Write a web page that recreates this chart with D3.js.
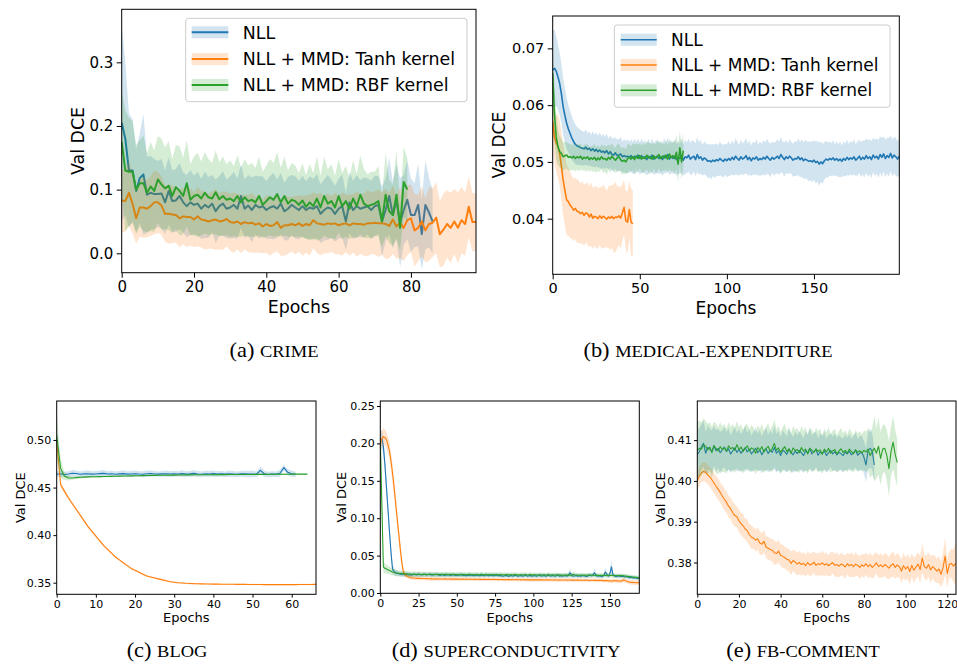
<!DOCTYPE html>
<html>
<head>
<meta charset="utf-8">
<script src="https://cdn.jsdelivr.net/npm/d3@7"></script>
<style>
  body { margin: 0; background: #fff; }
  svg { display: block; }
</style>
</head>
<body>
<div id="chart"></div>
<script>
// ---------- data ----------
const seriesNames = ["NLL", "NLL + MMD: Tanh kernel", "NLL + MMD: RBF kernel"];
const colors = ["#1f77b4", "#ff7f0e", "#2ca02c"];

// (a) crime
const aNLL = [0.205,0.180,0.130,0.130,0.098,0.118,0.124,0.092,0.095,0.093,
  0.093,0.094,0.080,0.098,0.082,0.083,0.090,0.080,0.074,0.080,
  0.076,0.078,0.070,0.076,0.072,0.078,0.066,0.074,0.078,0.070,
  0.072,0.076,0.070,0.090,0.070,0.075,0.068,0.076,0.072,0.074,
  0.068,0.072,0.074,0.070,0.078,0.066,0.070,0.076,0.072,0.068,
  0.074,0.068,0.072,0.070,0.074,0.062,0.068,0.072,0.070,0.062,
  0.070,0.074,0.050,0.080,0.068,0.074,0.070,0.072,0.074,0.068,
  0.074,0.076,0.050,0.068,0.090,0.060,0.082,0.048,0.068,0.084,
  0.060,0.060,0.076,0.030,0.076,0.064,0.050];
const aNLLsd = [0.155,0.120,0.090,0.080,0.065,0.070,0.095,0.060,0.058,0.055,
  0.052,0.054,0.050,0.053,0.048,0.050,0.052,0.047,0.049,0.051,
  0.046,0.050,0.047,0.052,0.048,0.045,0.050,0.047,0.051,0.046,
  0.049,0.052,0.047,0.050,0.046,0.048,0.051,0.046,0.049,0.047,
  0.045,0.049,0.052,0.046,0.048,0.045,0.050,0.047,0.049,0.046,
  0.048,0.045,0.049,0.047,0.050,0.046,0.048,0.051,0.046,0.044,
  0.047,0.050,0.045,0.048,0.046,0.049,0.045,0.047,0.044,0.046,
  0.048,0.045,0.055,0.050,0.060,0.052,0.058,0.070,0.055,0.062,
  0.058,0.050,0.065,0.055,0.070,0.055,0.050];
const aTanh = [0.083,0.082,0.095,0.078,0.055,0.072,0.072,0.070,0.074,0.080,
  0.080,0.075,0.062,0.062,0.061,0.060,0.055,0.058,0.057,0.057,
  0.053,0.058,0.053,0.052,0.050,0.052,0.053,0.050,0.051,0.054,
  0.049,0.048,0.050,0.046,0.049,0.047,0.048,0.045,0.047,0.042,
  0.046,0.043,0.044,0.049,0.040,0.044,0.044,0.046,0.044,0.047,
  0.043,0.046,0.044,0.052,0.047,0.046,0.045,0.047,0.046,0.047,
  0.044,0.046,0.047,0.044,0.047,0.046,0.046,0.045,0.047,0.047,
  0.048,0.047,0.047,0.046,0.043,0.053,0.042,0.048,0.040,0.052,
  0.055,0.036,0.040,0.050,0.036,0.046,0.048,0.056,0.030,0.037,
  0.046,0.040,0.050,0.040,0.052,0.046,0.073,0.049,0.049];
const aTanhSd = [0.050,0.048,0.052,0.047,0.040,0.046,0.048,0.045,0.047,0.050,
  0.048,0.046,0.044,0.047,0.045,0.043,0.046,0.044,0.047,0.045,
  0.043,0.047,0.044,0.046,0.043,0.045,0.048,0.044,0.046,0.043,
  0.045,0.047,0.044,0.046,0.043,0.045,0.047,0.044,0.046,0.042,
  0.045,0.047,0.043,0.046,0.044,0.048,0.045,0.043,0.046,0.044,
  0.047,0.045,0.048,0.044,0.046,0.049,0.045,0.047,0.044,0.048,
  0.046,0.050,0.045,0.048,0.046,0.051,0.047,0.049,0.052,0.048,
  0.050,0.053,0.049,0.055,0.051,0.054,0.050,0.056,0.052,0.055,
  0.053,0.057,0.052,0.055,0.050,0.058,0.054,0.056,0.052,0.057,
  0.053,0.055,0.051,0.056,0.052,0.050,0.048,0.046,0.045];
const aRBF = [0.175,0.130,0.128,0.128,0.100,0.110,0.110,0.095,0.105,0.098,
  0.116,0.108,0.102,0.106,0.090,0.104,0.098,0.090,0.110,0.084,
  0.090,0.092,0.086,0.095,0.088,0.086,0.096,0.085,0.090,0.084,
  0.086,0.082,0.090,0.080,0.088,0.082,0.084,0.080,0.090,0.076,
  0.082,0.088,0.084,0.093,0.080,0.090,0.078,0.084,0.082,0.076,
  0.083,0.073,0.080,0.074,0.086,0.072,0.090,0.078,0.082,0.072,
  0.090,0.074,0.082,0.070,0.086,0.074,0.092,0.078,0.074,0.076,
  0.078,0.082,0.050,0.092,0.066,0.060,0.092,0.040,0.112,0.100];
const aRBFsd = [0.080,0.095,0.085,0.080,0.070,0.068,0.075,0.062,0.070,0.064,
  0.068,0.072,0.064,0.070,0.058,0.066,0.070,0.060,0.068,0.056,
  0.062,0.066,0.058,0.064,0.060,0.056,0.066,0.058,0.062,0.056,
  0.060,0.055,0.064,0.054,0.060,0.056,0.058,0.054,0.062,0.052,
  0.056,0.060,0.058,0.066,0.054,0.062,0.052,0.058,0.056,0.050,
  0.058,0.050,0.060,0.052,0.066,0.050,0.062,0.054,0.058,0.050,
  0.058,0.052,0.056,0.048,0.060,0.050,0.062,0.054,0.050,0.052,
  0.050,0.055,0.040,0.065,0.050,0.048,0.070,0.035,0.055,0.050];

// (b) medical-expenditure
const bNLL = [0.0662,0.0665,0.0660,0.0650,0.0638,0.0620,0.0597,0.0582,0.0568,0.0558,
  0.0550,0.0542,0.0536,0.0531,0.0528,0.0527,0.0525,0.0524,0.0523,0.0526,
  0.0522,0.0524,0.0520,0.0523,0.0519,0.0522,0.0518,0.0521,0.0517,0.0519,
  0.0516,0.0520,0.0514,0.0518,0.0513,0.0512,0.0516,0.0511,0.0512,0.0514,
  0.0509,0.0511,0.0509,0.0510,0.0508,0.0511,0.0507,0.0510,0.0508,0.0512,
  0.0506,0.0511,0.0507,0.0509,0.0504,0.0510,0.0506,0.0512,0.0505,0.0508,
  0.0510,0.0506,0.0509,0.0504,0.0511,0.0507,0.0513,0.0505,0.0509,0.0506,
  0.0510,0.0504,0.0508,0.0506,0.0511,0.0503,0.0509,0.0507,0.0512,0.0505,
  0.0508,0.0510,0.0504,0.0513,0.0506,0.0509,0.0503,0.0507,0.0505,0.0501,
  0.0502,0.0500,0.0503,0.0501,0.0504,0.0502,0.0506,0.0503,0.0501,0.0505,
  0.0502,0.0506,0.0503,0.0508,0.0504,0.0510,0.0506,0.0503,0.0509,0.0505,
  0.0507,0.0511,0.0504,0.0508,0.0502,0.0507,0.0505,0.0509,0.0503,0.0506,
  0.0504,0.0508,0.0505,0.0510,0.0506,0.0503,0.0508,0.0505,0.0507,0.0510,
  0.0506,0.0513,0.0508,0.0504,0.0509,0.0506,0.0510,0.0507,0.0503,0.0506,
  0.0505,0.0509,0.0504,0.0507,0.0502,0.0505,0.0503,0.0501,0.0502,0.0500,
  0.0503,0.0499,0.0501,0.0496,0.0500,0.0497,0.0502,0.0505,0.0503,0.0506,
  0.0504,0.0507,0.0503,0.0506,0.0502,0.0505,0.0501,0.0506,0.0503,0.0508,
  0.0504,0.0507,0.0505,0.0509,0.0503,0.0506,0.0510,0.0504,0.0508,0.0505,
  0.0511,0.0506,0.0509,0.0504,0.0512,0.0507,0.0510,0.0505,0.0513,0.0508,
  0.0514,0.0506,0.0511,0.0508,0.0515,0.0507,0.0512,0.0509,0.0505,0.0510];
const bNLLsd = [0.0070,0.0068,0.0062,0.0058,0.0055,0.0052,0.0050,0.0048,0.0045,0.0042,
  0.0040,0.0038,0.0036,0.0035,0.0034,0.0032,0.0031,0.0030,0.0030,0.0031,
  0.0029,0.0030,0.0028,0.0031,0.0029,0.0030,0.0028,0.0031,0.0029,0.0030,
  0.0028,0.0030,0.0027,0.0029,0.0028,0.0030,0.0027,0.0029,0.0028,0.0030,
  0.0027,0.0029,0.0028,0.0030,0.0027,0.0029,0.0028,0.0031,0.0027,0.0029,
  0.0028,0.0030,0.0027,0.0029,0.0028,0.0031,0.0027,0.0030,0.0028,0.0029,
  0.0030,0.0027,0.0029,0.0028,0.0031,0.0027,0.0030,0.0028,0.0029,0.0027,
  0.0030,0.0028,0.0029,0.0027,0.0031,0.0028,0.0030,0.0027,0.0029,0.0028,
  0.0030,0.0027,0.0029,0.0031,0.0028,0.0030,0.0027,0.0029,0.0028,0.0030,
  0.0029,0.0031,0.0028,0.0030,0.0029,0.0027,0.0030,0.0028,0.0029,0.0027,
  0.0029,0.0031,0.0027,0.0030,0.0028,0.0032,0.0029,0.0027,0.0030,0.0028,
  0.0029,0.0031,0.0028,0.0030,0.0027,0.0029,0.0028,0.0031,0.0027,0.0030,
  0.0028,0.0030,0.0029,0.0031,0.0028,0.0030,0.0027,0.0029,0.0028,0.0030,
  0.0029,0.0031,0.0028,0.0030,0.0029,0.0027,0.0030,0.0028,0.0029,0.0031,
  0.0030,0.0032,0.0031,0.0033,0.0032,0.0034,0.0033,0.0035,0.0034,0.0036,
  0.0035,0.0037,0.0036,0.0038,0.0036,0.0035,0.0033,0.0032,0.0031,0.0030,
  0.0029,0.0031,0.0028,0.0030,0.0029,0.0031,0.0028,0.0030,0.0029,0.0031,
  0.0028,0.0030,0.0029,0.0031,0.0028,0.0030,0.0029,0.0031,0.0030,0.0032,
  0.0030,0.0032,0.0031,0.0033,0.0030,0.0032,0.0031,0.0033,0.0032,0.0034,
  0.0031,0.0033,0.0032,0.0034,0.0031,0.0033,0.0032,0.0034,0.0031,0.0033];
const bTanh = [0.0571,0.0544,0.0533,0.0527,0.0515,0.0492,0.0468,0.0450,0.0433,0.0430,
  0.0424,0.0420,0.0415,0.0418,0.0413,0.0412,0.0409,0.0411,0.0406,0.0410,
  0.0409,0.0403,0.0408,0.0401,0.0404,0.0403,0.0400,0.0405,0.0401,0.0404,
  0.0402,0.0399,0.0403,0.0401,0.0404,0.0400,0.0403,0.0402,0.0405,0.0401,
  0.0410,0.0420,0.0396,0.0394,0.0416,0.0394,0.0391];
const bTanhSd = [0.0040,0.0045,0.0050,0.0055,0.0058,0.0060,0.0062,0.0063,0.0062,0.0060,
  0.0058,0.0056,0.0055,0.0054,0.0056,0.0055,0.0053,0.0055,0.0054,0.0052,
  0.0055,0.0053,0.0056,0.0054,0.0052,0.0055,0.0053,0.0051,0.0054,0.0056,
  0.0053,0.0050,0.0054,0.0057,0.0055,0.0060,0.0062,0.0055,0.0052,0.0054,
  0.0050,0.0048,0.0052,0.0055,0.0050,0.0060,0.0058];
const bRBF = [0.0656,0.0585,0.0544,0.0527,0.0518,0.0515,0.0509,0.0511,0.0512,0.0508,
  0.0509,0.0507,0.0510,0.0506,0.0509,0.0507,0.0510,0.0505,0.0508,0.0506,
  0.0509,0.0504,0.0507,0.0505,0.0508,0.0503,0.0507,0.0504,0.0509,0.0505,
  0.0506,0.0503,0.0508,0.0505,0.0510,0.0506,0.0503,0.0507,0.0509,0.0504,
  0.0501,0.0503,0.0500,0.0506,0.0508,0.0505,0.0509,0.0504,0.0510,0.0506,
  0.0511,0.0505,0.0508,0.0506,0.0512,0.0507,0.0509,0.0505,0.0511,0.0506,
  0.0509,0.0513,0.0506,0.0510,0.0507,0.0512,0.0505,0.0514,0.0508,0.0511,
  0.0506,0.0517,0.0496,0.0525,0.0500,0.0520];
const bRBFsd = [0.0050,0.0048,0.0040,0.0032,0.0028,0.0026,0.0025,0.0024,0.0023,0.0024,
  0.0023,0.0022,0.0024,0.0023,0.0022,0.0024,0.0023,0.0021,0.0022,0.0024,
  0.0023,0.0022,0.0021,0.0023,0.0024,0.0022,0.0023,0.0021,0.0022,0.0024,
  0.0023,0.0025,0.0022,0.0024,0.0023,0.0021,0.0022,0.0024,0.0023,0.0022,
  0.0024,0.0023,0.0022,0.0025,0.0023,0.0022,0.0024,0.0026,0.0023,0.0025,
  0.0022,0.0024,0.0026,0.0023,0.0025,0.0027,0.0024,0.0026,0.0023,0.0025,
  0.0027,0.0024,0.0026,0.0025,0.0023,0.0026,0.0024,0.0027,0.0025,0.0026,
  0.0028,0.0030,0.0032,0.0029,0.0031,0.0030];

// (c) blog
const cNLL = [0.4640,0.4645,0.4638,0.4642,0.4650,0.4648,0.4640,0.4644,0.4646,0.4641,
  0.4643,0.4647,0.4649,0.4642,0.4645,0.4640,0.4644,0.4647,0.4641,0.4643,
  0.4646,0.4642,0.4640,0.4645,0.4648,0.4643,0.4641,0.4644,0.4646,0.4642,
  0.4645,0.4643,0.4647,0.4641,0.4644,0.4649,0.4642,0.4640,0.4645,0.4643,
  0.4647,0.4642,0.4644,0.4641,0.4646,0.4643,0.4640,0.4645,0.4644,0.4642,
  0.4643,0.4640,0.4680,0.4645,0.4638,0.4642,0.4640,0.4650,0.4710,0.4660,
  0.4645,0.4640];
const cNLLsd = [0.0030,0.0032,0.0028,0.0030,0.0034,0.0031,0.0029,0.0032,0.0035,0.0030,
  0.0031,0.0033,0.0036,0.0030,0.0032,0.0029,0.0031,0.0034,0.0030,0.0032,
  0.0033,0.0029,0.0031,0.0035,0.0032,0.0030,0.0028,0.0031,0.0033,0.0030,
  0.0032,0.0029,0.0034,0.0031,0.0030,0.0036,0.0031,0.0029,0.0032,0.0030,
  0.0033,0.0030,0.0031,0.0029,0.0034,0.0031,0.0028,0.0030,0.0032,0.0035,
  0.0033,0.0030,0.0040,0.0031,0.0029,0.0030,0.0028,0.0036,0.0030,0.0032,
  0.0031,0.0029];
const cTanh = [0.500,0.453,0.446,0.439,0.433,0.427,0.421,0.415,0.409,0.404,
  0.399,0.394,0.389,0.385,0.381,0.377,0.374,0.371,0.368,0.365,
  0.363,0.361,0.359,0.357,0.356,0.355,0.354,0.353,0.352,0.351,
  0.3505,0.3500,0.3497,0.3494,0.3492,0.3490,0.3489,0.3488,0.3487,0.3486,
  0.3485,0.3485,0.3484,0.3484,0.3483,0.3483,0.3482,0.3482,0.3482,0.3481,
  0.3481,0.3481,0.3481,0.3480,0.3480,0.3480,0.3480,0.3480,0.3480,0.3480,
  0.3480,0.3480,0.3481,0.3481,0.3481,0.3481,0.3482,0.3482];
const cTanhSd = [0.0060,0.0030,0.0025,0.0021,0.0019,0.0017,0.0016,0.0015,0.0014,0.0013,
  0.0013,0.0012,0.0012,0.0011,0.0011,0.0011,0.0010,0.0010,0.0010,0.0010,
  0.0009,0.0009,0.0009,0.0009,0.0009,0.0009,0.0008,0.0008,0.0008,0.0008,
  0.0008,0.0008,0.0008,0.0007,0.0008,0.0007,0.0008,0.0007,0.0007,0.0008,
  0.0007,0.0007,0.0008,0.0007,0.0007,0.0007,0.0008,0.0007,0.0007,0.0007,
  0.0007,0.0008,0.0007,0.0007,0.0007,0.0007,0.0007,0.0008,0.0007,0.0007,
  0.0007,0.0007,0.0007,0.0007,0.0008,0.0007,0.0007,0.0007];
const cRBF = [0.505,0.470,0.462,0.4600,0.4600,0.4605,0.4608,0.4610,0.4612,0.4613,
  0.4614,0.4615,0.4616,0.4617,0.4618,0.4619,0.4620,0.4621,0.4622,0.4623,
  0.4624,0.4625,0.4626,0.4627,0.4628,0.4628,0.4629,0.4630,0.4630,0.4631,
  0.4631,0.4632,0.4632,0.4633,0.4633,0.4634,0.4634,0.4634,0.4635,0.4635,
  0.4635,0.4636,0.4636,0.4636,0.4637,0.4637,0.4637,0.4638,0.4638,0.4638,
  0.4638,0.4639,0.4639,0.4639,0.4639,0.4640,0.4640,0.4640,0.4640,0.4640,
  0.4641,0.4641,0.4641,0.4641,0.4641];
const cRBFsd = [0.0250,0.0100,0.0040,0.0025,0.0018,0.0015,0.0013,0.0012,0.0011,0.0010,
  0.0010,0.0009,0.0009,0.0009,0.0009,0.0008,0.0008,0.0008,0.0008,0.0008,
  0.0008,0.0007,0.0008,0.0007,0.0008,0.0007,0.0007,0.0008,0.0007,0.0007,
  0.0008,0.0007,0.0007,0.0007,0.0008,0.0007,0.0007,0.0007,0.0007,0.0008,
  0.0007,0.0007,0.0007,0.0007,0.0007,0.0008,0.0007,0.0007,0.0007,0.0007,
  0.0007,0.0007,0.0008,0.0007,0.0007,0.0007,0.0007,0.0007,0.0007,0.0007,
  0.0007,0.0007,0.0007,0.0007,0.0007];

// (d) superconductivity
const dNLL = [0.205,0.206,0.196,0.172,0.142,0.112,0.082,0.054,0.032,0.029,
  0.027,0.026,0.026,0.025,0.025,0.025,0.0245,0.025,0.0245,0.024,
  0.0245,0.024,0.025,0.0245,0.024,0.025,0.0245,0.024,0.0245,0.025,
  0.024,0.0245,0.025,0.024,0.0245,0.024,0.025,0.0245,0.024,0.0235,
  0.0245,0.024,0.0235,0.024,0.0245,0.024,0.0235,0.024,0.0245,0.0235,
  0.024,0.0235,0.0245,0.024,0.0235,0.024,0.023,0.0235,0.024,0.0235,
  0.024,0.023,0.0235,0.024,0.0235,0.023,0.024,0.0235,0.023,0.0245,
  0.0235,0.023,0.024,0.0235,0.023,0.0235,0.024,0.023,0.0235,0.023,
  0.0225,0.023,0.0235,0.023,0.022,0.0235,0.023,0.0225,0.024,0.023,
  0.0225,0.023,0.0235,0.0225,0.023,0.024,0.0225,0.023,0.0235,0.0225,
  0.023,0.0235,0.0225,0.023,0.024,0.0225,0.023,0.0235,0.0225,0.023,
  0.024,0.0225,0.023,0.0235,0.0225,0.023,0.024,0.0225,0.023,0.0225,
  0.023,0.0235,0.0225,0.024,0.027,0.0235,0.0225,0.023,0.0235,0.0225,
  0.023,0.0225,0.0235,0.023,0.0225,0.022,0.0235,0.024,0.023,0.0245,
  0.027,0.0235,0.0225,0.023,0.0225,0.022,0.0235,0.028,0.025,0.0225,
  0.026,0.035,0.0245,0.023,0.022,0.0225,0.023,0.022,0.0225,0.022,
  0.0215,0.022,0.021,0.0205,0.021,0.020,0.0205,0.020,0.0195,0.020];
const dNLLsd = [0.012,0.012,0.012,0.012,0.011,0.011,0.010,0.009,0.006,0.005,
  0.0042,0.0038,0.0035,0.0034,0.0032,0.0033,0.0031,0.0032,0.0030,0.0031,
  0.0030,0.0032,0.0029,0.0031,0.0030,0.0033,0.0029,0.0031,0.0030,0.0032,
  0.0029,0.0031,0.0030,0.0028,0.0031,0.0029,0.0032,0.0030,0.0028,0.0031,
  0.0029,0.0031,0.0028,0.0030,0.0032,0.0029,0.0028,0.0031,0.0030,0.0028,
  0.0030,0.0028,0.0031,0.0029,0.0028,0.0030,0.0027,0.0029,0.0031,0.0028,
  0.0030,0.0027,0.0029,0.0031,0.0028,0.0027,0.0030,0.0028,0.0027,0.0032,
  0.0028,0.0027,0.0030,0.0028,0.0027,0.0029,0.0031,0.0027,0.0028,0.0027,
  0.0026,0.0028,0.0030,0.0027,0.0026,0.0030,0.0028,0.0027,0.0031,0.0028,
  0.0027,0.0028,0.0030,0.0027,0.0028,0.0031,0.0027,0.0028,0.0030,0.0027,
  0.0028,0.0030,0.0027,0.0028,0.0032,0.0027,0.0028,0.0030,0.0027,0.0028,
  0.0031,0.0027,0.0028,0.0030,0.0027,0.0028,0.0031,0.0027,0.0028,0.0027,
  0.0028,0.0030,0.0027,0.0032,0.0060,0.0031,0.0027,0.0028,0.0030,0.0027,
  0.0028,0.0027,0.0030,0.0028,0.0027,0.0026,0.0030,0.0032,0.0028,0.0034,
  0.0050,0.0030,0.0027,0.0028,0.0027,0.0026,0.0030,0.0055,0.0040,0.0027,
  0.0045,0.0090,0.0038,0.0028,0.0026,0.0027,0.0028,0.0026,0.0027,0.0026,
  0.0025,0.0026,0.0025,0.0024,0.0025,0.0024,0.0025,0.0024,0.0023,0.0024];
const dTanh = [0.200,0.206,0.209,0.208,0.205,0.198,0.190,0.176,0.160,0.141,
  0.121,0.100,0.080,0.060,0.042,0.029,0.025,0.023,0.022,0.021,
  0.0205,0.0200,0.0200,0.0198,0.0196,0.0195,0.0195,0.0194,0.0193,0.0193,
  0.0192,0.0190,0.0191,0.0189,0.0190,0.0188,0.0189,0.0190,0.0188,0.0187,
  0.0188,0.0187,0.0189,0.0186,0.0187,0.0188,0.0186,0.0185,0.0187,0.0186,
  0.0185,0.0186,0.0184,0.0185,0.0186,0.0184,0.0185,0.0183,0.0184,0.0185,
  0.0183,0.0184,0.0182,0.0183,0.0184,0.0182,0.0183,0.0181,0.0182,0.0183,
  0.0181,0.0182,0.0180,0.0181,0.0182,0.0180,0.0181,0.0179,0.0180,0.0181,
  0.0179,0.0180,0.0178,0.0179,0.0180,0.0178,0.0179,0.0177,0.0178,0.0179,
  0.0177,0.0178,0.0176,0.0177,0.0178,0.0176,0.0177,0.0175,0.0176,0.0177,
  0.0176,0.0177,0.0175,0.0176,0.0177,0.0175,0.0176,0.0174,0.0175,0.0176,
  0.0174,0.0175,0.0173,0.0174,0.0175,0.0173,0.0174,0.0172,0.0173,0.0174,
  0.0173,0.0174,0.0172,0.0173,0.0174,0.0172,0.0173,0.0171,0.0172,0.0173,
  0.0171,0.0172,0.0170,0.0171,0.0172,0.0170,0.0171,0.0169,0.0170,0.0171,
  0.0169,0.0170,0.0168,0.0169,0.0170,0.0166,0.0168,0.0165,0.0167,0.0160,
  0.0165,0.0158,0.0162,0.0166,0.0160,0.0164,0.0158,0.0162,0.0160,0.0178,
  0.0165,0.0158,0.0150,0.0145,0.0140,0.0142,0.0140,0.0138,0.0140,0.0138];
const dTanhSd = [0.012,0.012,0.011,0.011,0.011,0.011,0.012,0.012,0.013,0.013,
  0.013,0.013,0.012,0.011,0.010,0.006,0.004,0.0032,0.0030,0.0028,
  0.0027,0.0026,0.0027,0.0025,0.0026,0.0024,0.0025,0.0026,0.0024,0.0025,
  0.0024,0.0025,0.0023,0.0024,0.0026,0.0023,0.0024,0.0025,0.0023,0.0024,
  0.0025,0.0023,0.0024,0.0022,0.0024,0.0025,0.0023,0.0024,0.0022,0.0023,
  0.0024,0.0022,0.0023,0.0025,0.0022,0.0023,0.0024,0.0022,0.0023,0.0022,
  0.0023,0.0024,0.0022,0.0023,0.0022,0.0024,0.0023,0.0022,0.0023,0.0024,
  0.0022,0.0023,0.0022,0.0024,0.0023,0.0022,0.0023,0.0022,0.0024,0.0023,
  0.0022,0.0023,0.0024,0.0022,0.0023,0.0022,0.0023,0.0024,0.0022,0.0023,
  0.0022,0.0024,0.0023,0.0022,0.0023,0.0022,0.0024,0.0023,0.0022,0.0023,
  0.0024,0.0022,0.0023,0.0022,0.0023,0.0024,0.0022,0.0023,0.0022,0.0024,
  0.0023,0.0022,0.0023,0.0024,0.0022,0.0023,0.0022,0.0024,0.0023,0.0022,
  0.0023,0.0024,0.0022,0.0023,0.0022,0.0024,0.0023,0.0022,0.0023,0.0024,
  0.0022,0.0023,0.0024,0.0022,0.0023,0.0022,0.0024,0.0023,0.0022,0.0023,
  0.0024,0.0023,0.0022,0.0024,0.0023,0.0025,0.0024,0.0026,0.0024,0.0027,
  0.0025,0.0028,0.0026,0.0025,0.0027,0.0026,0.0028,0.0026,0.0027,0.0030,
  0.0027,0.0028,0.0030,0.0029,0.0030,0.0031,0.0030,0.0031,0.0030,0.0031];
const dRBF = [0.205,0.120,0.035,0.033,0.032,0.031,0.030,0.029,0.028,0.0275,
  0.0270,0.0268,0.0265,0.0260,0.0262,0.0258,0.0260,0.0255,0.0257,0.0253,
  0.0252,0.0250,0.0253,0.0249,0.0251,0.0254,0.0250,0.0248,0.0252,0.0249,
  0.0251,0.0248,0.0250,0.0252,0.0247,0.0250,0.0248,0.0251,0.0249,0.0247,
  0.0250,0.0247,0.0249,0.0251,0.0246,0.0248,0.0250,0.0247,0.0249,0.0246,
  0.0248,0.0245,0.0247,0.0249,0.0246,0.0248,0.0245,0.0247,0.0249,0.0246,
  0.0244,0.0247,0.0245,0.0248,0.0244,0.0246,0.0249,0.0245,0.0243,0.0246,
  0.0244,0.0247,0.0243,0.0245,0.0248,0.0244,0.0246,0.0243,0.0245,0.0247,
  0.0243,0.0245,0.0242,0.0246,0.0244,0.0242,0.0245,0.0243,0.0246,0.0242,
  0.0244,0.0241,0.0243,0.0245,0.0242,0.0244,0.0241,0.0243,0.0246,0.0242,
  0.0244,0.0241,0.0243,0.0240,0.0242,0.0245,0.0241,0.0243,0.0240,0.0242,
  0.0244,0.0240,0.0242,0.0239,0.0241,0.0243,0.0240,0.0242,0.0239,0.0241,
  0.0238,0.0241,0.0239,0.0242,0.0238,0.0240,0.0252,0.0241,0.0238,0.0240,
  0.0237,0.0240,0.0238,0.0236,0.0239,0.0237,0.0240,0.0236,0.0238,0.0237,
  0.0235,0.0238,0.0236,0.0234,0.0237,0.0235,0.0238,0.0234,0.0236,0.0235,
  0.0233,0.0236,0.0234,0.0232,0.0235,0.0233,0.0231,0.0234,0.0232,0.0230,
  0.0228,0.0225,0.0222,0.0220,0.0218,0.0215,0.0212,0.0210,0.0208,0.0205];
const dRBFsd = [0.015,0.020,0.008,0.0065,0.006,0.0055,0.005,0.0047,0.0045,0.0042,
  0.0040,0.0039,0.0037,0.0036,0.0038,0.0035,0.0036,0.0034,0.0036,0.0033,
  0.0034,0.0036,0.0033,0.0035,0.0034,0.0037,0.0033,0.0034,0.0036,0.0033,
  0.0035,0.0033,0.0034,0.0037,0.0032,0.0034,0.0033,0.0035,0.0033,0.0032,
  0.0034,0.0032,0.0033,0.0035,0.0031,0.0033,0.0034,0.0032,0.0033,0.0031,
  0.0033,0.0031,0.0032,0.0034,0.0031,0.0033,0.0031,0.0032,0.0034,0.0031,
  0.0030,0.0032,0.0031,0.0033,0.0030,0.0031,0.0034,0.0031,0.0030,0.0032,
  0.0031,0.0033,0.0030,0.0031,0.0033,0.0030,0.0032,0.0030,0.0031,0.0033,
  0.0030,0.0031,0.0029,0.0032,0.0031,0.0029,0.0032,0.0030,0.0031,0.0029,
  0.0030,0.0029,0.0031,0.0032,0.0029,0.0030,0.0029,0.0031,0.0033,0.0029,
  0.0030,0.0029,0.0031,0.0028,0.0030,0.0032,0.0029,0.0030,0.0028,0.0030,
  0.0031,0.0028,0.0030,0.0028,0.0029,0.0031,0.0028,0.0030,0.0028,0.0029,
  0.0028,0.0030,0.0028,0.0031,0.0028,0.0029,0.0036,0.0030,0.0028,0.0029,
  0.0028,0.0030,0.0028,0.0027,0.0029,0.0028,0.0030,0.0027,0.0028,0.0028,
  0.0027,0.0029,0.0028,0.0027,0.0029,0.0028,0.0030,0.0027,0.0028,0.0028,
  0.0027,0.0029,0.0028,0.0027,0.0028,0.0027,0.0026,0.0028,0.0027,0.0026,
  0.0026,0.0025,0.0026,0.0025,0.0026,0.0025,0.0024,0.0025,0.0024,0.0024];

// (e) fb-comment
const eNLL = [0.4065,0.4072,0.4084,0.4092,0.4068,0.4082,0.4078,0.4071,0.4086,0.4074,
  0.4080,0.4069,0.4076,0.4083,0.4072,0.4079,0.4066,0.4074,0.4081,0.4070,
  0.4077,0.4068,0.4075,0.4082,0.4071,0.4078,0.4066,0.4073,0.4080,0.4069,
  0.4076,0.4064,0.4074,0.4079,0.4067,0.4075,0.4070,0.4082,0.4068,0.4074,
  0.4062,0.4076,0.4071,0.4065,0.4078,0.4070,0.4064,0.4073,0.4067,0.4075,
  0.4069,0.4062,0.4074,0.4068,0.4080,0.4066,0.4072,0.4077,0.4063,0.4071,
  0.4067,0.4074,0.4062,0.4069,0.4075,0.4066,0.4072,0.4064,0.4070,0.4067,
  0.4062,0.4071,0.4066,0.4073,0.4064,0.4069,0.4076,0.4063,0.4068,0.4070,
  0.4058,0.4039,0.4075,0.4080,0.4072,0.4039];
const eNLLsd = [0.0060,0.0058,0.0055,0.0056,0.0052,0.0054,0.0050,0.0053,0.0049,0.0051,
  0.0048,0.0052,0.0047,0.0050,0.0048,0.0051,0.0046,0.0049,0.0052,0.0047,
  0.0050,0.0046,0.0049,0.0053,0.0047,0.0050,0.0045,0.0048,0.0051,0.0046,
  0.0049,0.0045,0.0048,0.0052,0.0046,0.0049,0.0045,0.0053,0.0047,0.0049,
  0.0045,0.0048,0.0046,0.0044,0.0050,0.0046,0.0044,0.0048,0.0045,0.0047,
  0.0044,0.0042,0.0047,0.0045,0.0049,0.0044,0.0046,0.0043,0.0041,0.0045,
  0.0043,0.0046,0.0042,0.0044,0.0041,0.0043,0.0045,0.0041,0.0043,0.0040,
  0.0042,0.0044,0.0040,0.0042,0.0039,0.0041,0.0043,0.0040,0.0042,0.0041,
  0.0040,0.0042,0.0045,0.0048,0.0044,0.0040];
const eTanh = [0.4000,0.4012,0.4020,0.4023,0.4021,0.4015,0.4010,0.4003,0.3995,0.3987,
  0.3980,0.3972,0.3963,0.3955,0.3948,0.3938,0.3932,0.3922,0.3915,0.3912,
  0.3902,0.3895,0.3890,0.3882,0.3878,0.3868,0.3862,0.3860,0.3855,0.3858,
  0.3848,0.3845,0.3852,0.3838,0.3835,0.3832,0.3830,0.3824,0.3822,0.3828,
  0.3818,0.3815,0.3812,0.3808,0.3806,0.3798,0.3805,0.3801,0.3796,0.3800,
  0.3795,0.3798,0.3792,0.3800,0.3794,0.3796,0.3801,0.3793,0.3797,0.3795,
  0.3799,0.3794,0.3797,0.3792,0.3796,0.3800,0.3793,0.3795,0.3791,0.3796,
  0.3794,0.3789,0.3797,0.3792,0.3795,0.3790,0.3796,0.3793,0.3788,0.3794,
  0.3791,0.3797,0.3790,0.3795,0.3788,0.3793,0.3799,0.3790,0.3794,0.3789,
  0.3795,0.3791,0.3786,0.3793,0.3797,0.3788,0.3794,0.3790,0.3779,0.3792,
  0.3784,0.3790,0.3778,0.3793,0.3781,0.3789,0.3796,0.3783,0.3811,0.3790,
  0.3786,0.3795,0.3782,0.3790,0.3785,0.3779,0.3784,0.3771,0.3788,0.3816,
  0.3773,0.3795,0.3798,0.3791,0.3797,0.3795];
const eTanhSd = [0.0022,0.0022,0.0023,0.0023,0.0024,0.0024,0.0024,0.0025,0.0025,0.0025,
  0.0026,0.0025,0.0026,0.0027,0.0026,0.0027,0.0026,0.0028,0.0027,0.0026,
  0.0028,0.0027,0.0029,0.0026,0.0028,0.0027,0.0029,0.0026,0.0028,0.0027,
  0.0029,0.0027,0.0028,0.0026,0.0029,0.0027,0.0028,0.0030,0.0027,0.0028,
  0.0027,0.0029,0.0026,0.0028,0.0027,0.0029,0.0026,0.0028,0.0027,0.0029,
  0.0027,0.0028,0.0026,0.0029,0.0027,0.0028,0.0026,0.0029,0.0027,0.0028,
  0.0030,0.0027,0.0028,0.0026,0.0029,0.0027,0.0028,0.0030,0.0027,0.0028,
  0.0027,0.0029,0.0026,0.0028,0.0030,0.0027,0.0029,0.0026,0.0028,0.0027,
  0.0029,0.0027,0.0028,0.0030,0.0027,0.0029,0.0026,0.0028,0.0030,0.0027,
  0.0028,0.0030,0.0027,0.0029,0.0031,0.0028,0.0030,0.0027,0.0029,0.0031,
  0.0028,0.0030,0.0032,0.0029,0.0031,0.0028,0.0030,0.0033,0.0035,0.0029,
  0.0031,0.0030,0.0033,0.0029,0.0032,0.0030,0.0034,0.0031,0.0038,0.0045,
  0.0035,0.0032,0.0036,0.0040,0.0050,0.0045];
const eRBF = [0.4075,0.4080,0.4078,0.4088,0.4085,0.4076,0.4083,0.4070,0.4087,0.4079,
  0.4074,0.4084,0.4077,0.4081,0.4073,0.4086,0.4079,0.4082,0.4075,0.4089,
  0.4077,0.4083,0.4072,0.4080,0.4086,0.4074,0.4081,0.4078,0.4068,0.4082,
  0.4076,0.4084,0.4071,0.4079,0.4085,0.4073,0.4080,0.4092,0.4075,0.4081,
  0.4070,0.4078,0.4084,0.4072,0.4079,0.4067,0.4081,0.4074,0.4077,0.4069,
  0.4082,0.4073,0.4078,0.4066,0.4080,0.4075,0.4070,0.4079,0.4072,0.4076,
  0.4065,0.4078,0.4071,0.4080,0.4068,0.4074,0.4077,0.4066,0.4073,0.4079,
  0.4070,0.4075,0.4068,0.4078,0.4072,0.4067,0.4076,0.4070,0.4074,0.4069,
  0.4075,0.4071,0.4078,0.4062,0.4073,0.4080,0.4068,0.4085,0.4055,0.4078,
  0.4080,0.4062,0.4030,0.4072,0.4095,0.4065,0.4045];
const eRBFsd = [0.0070,0.0068,0.0065,0.0066,0.0062,0.0064,0.0060,0.0063,0.0058,0.0061,
  0.0057,0.0060,0.0056,0.0059,0.0055,0.0058,0.0054,0.0057,0.0055,0.0058,
  0.0054,0.0056,0.0053,0.0057,0.0054,0.0052,0.0056,0.0053,0.0051,0.0055,
  0.0052,0.0056,0.0051,0.0054,0.0057,0.0052,0.0055,0.0058,0.0051,0.0054,
  0.0050,0.0053,0.0056,0.0050,0.0053,0.0049,0.0054,0.0051,0.0053,0.0049,
  0.0052,0.0050,0.0053,0.0048,0.0052,0.0050,0.0047,0.0051,0.0049,0.0052,
  0.0047,0.0050,0.0048,0.0052,0.0047,0.0049,0.0051,0.0046,0.0049,0.0051,
  0.0047,0.0049,0.0046,0.0050,0.0048,0.0045,0.0049,0.0046,0.0048,0.0045,
  0.0048,0.0050,0.0052,0.0055,0.0058,0.0080,0.0062,0.0070,0.0065,0.0060,
  0.0058,0.0062,0.0068,0.0060,0.0065,0.0060,0.0058];

// ---------- layout ----------
const sans = "'DejaVu Sans', sans-serif";
const serif = "'Liberation Serif', 'Times New Roman', serif";

const panels = [
  { id: "a", box: [121.7, 9.3, 354.3, 263.4], xDomain: [0, 98], yDomain: [-0.0305, 0.3833],
    xTicks: [0, 20, 40, 60, 80], yTicks: [0, 0.1, 0.2, 0.3], yFmt: ".1f",
    series: [[aNLL, aNLLsd], [aTanh, aTanhSd], [aRBF, aRBFsd]],
    lw: 2, fs: 15, lfs: 17.4, tick: 5, pad: 3.4, xlabDy: 40, ylabX: -37.7,
    legend: { box: [185.7, 18.3, 281.3, 83.4], rows: [32.3, 59, 85], hx: [191.7, 228.3], tx: 242.7 } },
  { id: "b", box: [552.7, 16, 346.6, 258.3], xDomain: [0, 199], yDomain: [0.0302, 0.0757],
    xTicks: [0, 50, 100, 150], yTicks: [0.04, 0.05, 0.06, 0.07], yFmt: ".2f",
    series: [[bNLL, bNLLsd], [bTanh, bTanhSd], [bRBF, bRBFsd]],
    lw: 1.6, fs: 14.5, lfs: 17, tick: 5, pad: 3.4, xlabDy: 39.3, ylabX: -47.7,
    legend: { box: [614.3, 25, 275.7, 82.3], rows: [39.7, 65, 90.3], hx: [620.7, 656.7], tx: 671 } },
  { id: "c", box: [56.7, 401, 259.3, 193.3], xDomain: [0, 66.2], yDomain: [0.3378, 0.541],
    xTicks: [0, 10, 20, 30, 40, 50, 60], yTicks: [0.35, 0.40, 0.45, 0.50], yFmt: ".2f",
    series: [[cNLL, cNLLsd], [cTanh, cTanhSd], [cRBF, cRBFsd]],
    lw: 1.1, fs: 11, lfs: 13, tick: 3.3, pad: 2.2, xlabDy: 28, ylabX: -32.2 },
  { id: "d", box: [380.3, 401, 259, 192.3], xDomain: [0, 169.2], yDomain: [-0.0004, 0.2567],
    xTicks: [0, 25, 50, 75, 100, 125, 150], yTicks: [0, 0.05, 0.10, 0.15, 0.20, 0.25], yFmt: ".2f",
    series: [[dNLL, dNLLsd], [dTanh, dTanhSd], [dRBF, dRBFsd]],
    lw: 1.1, fs: 11, lfs: 13, tick: 3.3, pad: 2.2, xlabDy: 28.3, ylabX: -34.3 },
  { id: "e", box: [697.3, 401, 258.7, 193.3], xDomain: [0, 124.2], yDomain: [0.3722, 0.4196],
    xTicks: [0, 20, 40, 60, 80, 100, 120], yTicks: [0.38, 0.39, 0.40, 0.41], yFmt: ".2f",
    series: [[eNLL, eNLLsd], [eTanh, eTanhSd], [eRBF, eRBFsd]],
    lw: 1.1, fs: 11, lfs: 13, tick: 3.3, pad: 2.2, xlabDy: 28, ylabX: -32.8 }
];

const captions = [
  { cx: 274, y: 357, tag: "(a) ", name: "CRIME" },
  { cx: 708, y: 357, tag: "(b) ", name: "MEDICAL-EXPENDITURE" },
  { cx: 167, y: 657, tag: "(c) ", name: "BLOG" },
  { cx: 506, y: 657, tag: "(d) ", name: "SUPERCONDUCTIVITY" },
  { cx: 803, y: 657, tag: "(e) ", name: "FB-COMMENT" }
];

const svg = d3.select("#chart").append("svg")
  .attr("width", 957)
  .attr("height", 671);

function drawPanel(p) {
  const [left, top, w, h] = p.box;
  const x = d3.scaleLinear().domain(p.xDomain).range([0, w]);
  const y = d3.scaleLinear().domain(p.yDomain).range([h, 0]);

  const g = svg.append("g").attr("transform", `translate(${left},${top})`);
  const clipId = "clip-" + p.id;
  g.append("clipPath").attr("id", clipId)
    .append("rect").attr("width", w).attr("height", h);

  const plot = g.append("g").attr("clip-path", `url(#${clipId})`);

  const area = d3.area()
    .x(d => x(d.e))
    .y0(d => y(d.m - d.s))
    .y1(d => y(d.m + d.s));
  const line = d3.line()
    .x(d => x(d.e))
    .y(d => y(d.m));

  p.series.forEach(([mean, sd], k) => {
    const pts = mean.map((v, i) => ({ e: i, m: v, s: sd[i] }));
    plot.append("path").datum(pts)
      .attr("fill", colors[k])
      .attr("fill-opacity", 0.2)
      .attr("d", area);
    plot.append("path").datum(pts)
      .attr("fill", "none")
      .attr("stroke", colors[k])
      .attr("stroke-width", p.lw)
      .attr("stroke-linejoin", "round")
      .attr("d", line);
  });

  // axes
  const xAxis = g.append("g")
    .attr("transform", `translate(0,${h})`)
    .call(d3.axisBottom(x).tickValues(p.xTicks).tickFormat(d3.format("d"))
      .tickSize(p.tick).tickPadding(p.pad));
  const yAxis = g.append("g")
    .call(d3.axisLeft(y).tickValues(p.yTicks).tickFormat(d3.format(p.yFmt))
      .tickSize(p.tick).tickPadding(p.pad));

  [xAxis, yAxis].forEach(a => {
    a.select(".domain").remove();
    a.selectAll(".tick line").attr("stroke", "#000").attr("stroke-width", 1);
    a.selectAll(".tick text")
      .attr("fill", "#000")
      .attr("font-family", sans)
      .attr("font-size", p.fs);
  });

  // frame
  g.append("rect")
    .attr("width", w).attr("height", h)
    .attr("fill", "none")
    .attr("stroke", "#000")
    .attr("stroke-width", 1);

  // axis titles
  g.append("text")
    .attr("x", w / 2).attr("y", h + p.xlabDy)
    .attr("text-anchor", "middle")
    .attr("font-family", sans).attr("font-size", p.lfs)
    .attr("fill", "#000")
    .text("Epochs");
  g.append("text")
    .attr("transform", `translate(${p.ylabX},${h / 2}) rotate(-90)`)
    .attr("text-anchor", "middle")
    .attr("font-family", sans).attr("font-size", p.lfs)
    .attr("fill", "#000")
    .text("Val DCE");

  if (p.legend) drawLegend(p);
}

function drawLegend(p) {
  const L = p.legend;
  const lg = svg.append("g");
  lg.append("rect")
    .attr("x", L.box[0]).attr("y", L.box[1])
    .attr("width", L.box[2]).attr("height", L.box[3])
    .attr("rx", 3)
    .attr("fill", "#fff").attr("fill-opacity", 0.8)
    .attr("stroke", "#ccc").attr("stroke-width", 1);
  seriesNames.forEach((name, k) => {
    const cy = L.rows[k];
    lg.append("rect")
      .attr("x", L.hx[0]).attr("y", cy - 6)
      .attr("width", L.hx[1] - L.hx[0]).attr("height", 12)
      .attr("fill", colors[k]).attr("fill-opacity", 0.2);
    lg.append("line")
      .attr("x1", L.hx[0]).attr("x2", L.hx[1])
      .attr("y1", cy).attr("y2", cy)
      .attr("stroke", colors[k]).attr("stroke-width", p.lw);
    lg.append("text")
      .attr("x", L.tx).attr("y", cy)
      .attr("dy", "0.36em")
      .attr("font-family", sans).attr("font-size", p.lfs)
      .attr("fill", "#000")
      .text(name);
  });
}

panels.forEach(drawPanel);

// sub-figure captions (small caps, set a little wide like the paper font)
captions.forEach(c => {
  const t = svg.append("text")
    .attr("transform", `translate(${c.cx},${c.y}) scale(1.12,1)`)
    .attr("text-anchor", "middle")
    .attr("font-family", serif)
    .attr("font-size", 20)
    .attr("fill", "#000");
  t.append("tspan").text(c.tag);
  t.append("tspan").attr("font-size", 16.5).text(c.name);
});
</script>
</body>
</html>
